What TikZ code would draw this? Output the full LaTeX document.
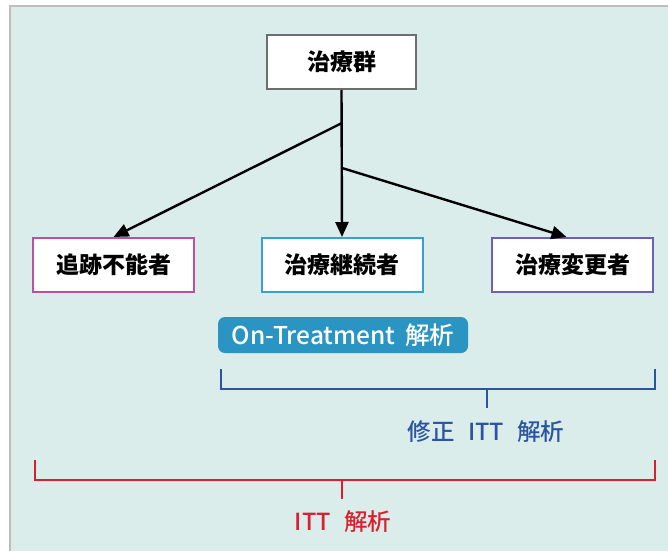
\documentclass[tikz,border=0pt]{standalone}
\usepackage{fontspec}
\setmainfont{Noto Sans CJK JP}
\newfontfamily\jpmed{Noto Sans CJK JP}[UprightFont={* Medium}]
\usetikzlibrary{arrows.meta}
\definecolor{bgpanel}{HTML}{DAEDEB}
\definecolor{frameline}{HTML}{BDBDBD}
\definecolor{topframe}{HTML}{6E6E6E}
\definecolor{lostc}{HTML}{C04F9E}
\definecolor{contc}{HTML}{3A9FD0}
\definecolor{changec}{HTML}{6F5FB8}
\definecolor{pillc}{HTML}{2A95C2}
\definecolor{modc}{HTML}{2B55A0}
\definecolor{ittc}{HTML}{D8202F}
\tikzset{
  groupbox/.style={draw, fill=white, line width=2pt, minimum width=161pt, minimum height=54pt, inner sep=0pt, font=\bfseries\fontsize{23}{26}\selectfont},
  flow/.style={line width=2.4pt, -{Triangle[length=15pt,width=13pt]}},
  brk/.style={line width=2.4pt, line cap=rect},
  lbl/.style={font=\jpmed\fontsize{23.5}{26}\selectfont, inner sep=0pt}
}
\begin{document}
\begin{tikzpicture}[x=1pt,y=-1pt]
\useasboundingbox (0,0) rectangle (668,551);
\fill[white] (0,0) rectangle (668,551);
\fill[bgpanel] (10,6) rectangle (668,551);
\draw[frameline, line width=1.5pt] (10,551) -- (10,6) -- (668,6);

\node[groupbox, draw=topframe, minimum width=149pt] (top) at (341.5,62) {治療群};
\node[groupbox, draw=lostc] (lost) at (113.5,265) {追跡不能者};
\node[groupbox, draw=contc] (cont) at (342,265) {治療継続者};
\node[groupbox, draw=changec] (chg) at (572.5,265) {治療変更者};

\coordinate (j1) at (342,123);
\coordinate (j2) at (342,168);
\draw[flow] (top.south) -- (cont.north);
\draw[flow] (j1) -- (lost.north);
\draw[flow] (j2) -- ([xshift=-6pt]chg.north);

\node[fill=pillc, text=white, rounded corners=7pt, minimum width=250pt, minimum height=36pt, inner sep=0pt, font=\jpmed\fontsize{24.5}{26}\selectfont] (ot) at (343,335) {On-Treatment\, 解析};

\coordinate (ba) at (221,370);
\coordinate (bb) at (221,389);
\coordinate (bc) at (655,389);
\coordinate (bd) at (655,370);
\coordinate (bm) at (487,389);
\coordinate (bt) at (487,407);
\draw[brk, modc] (ba) -- (bb) -- (bc) -- (bd);
\draw[brk, modc] (bm) -- (bt);
\node[lbl, text=modc] (modl) at (486,432) {修正\,\, ITT\,\, 解析};

\coordinate (ra) at (35,461);
\coordinate (rb) at (35,480);
\coordinate (rc) at (655,480);
\coordinate (rd) at (655,461);
\coordinate (rm) at (342,480);
\coordinate (rt) at (342,498);
\draw[brk, ittc] (ra) -- (rb) -- (rc) -- (rd);
\draw[brk, ittc] (rm) -- (rt);
\node[lbl, text=ittc] (ittl) at (343,522) {ITT\,\, 解析};
\end{tikzpicture}
\end{document}
